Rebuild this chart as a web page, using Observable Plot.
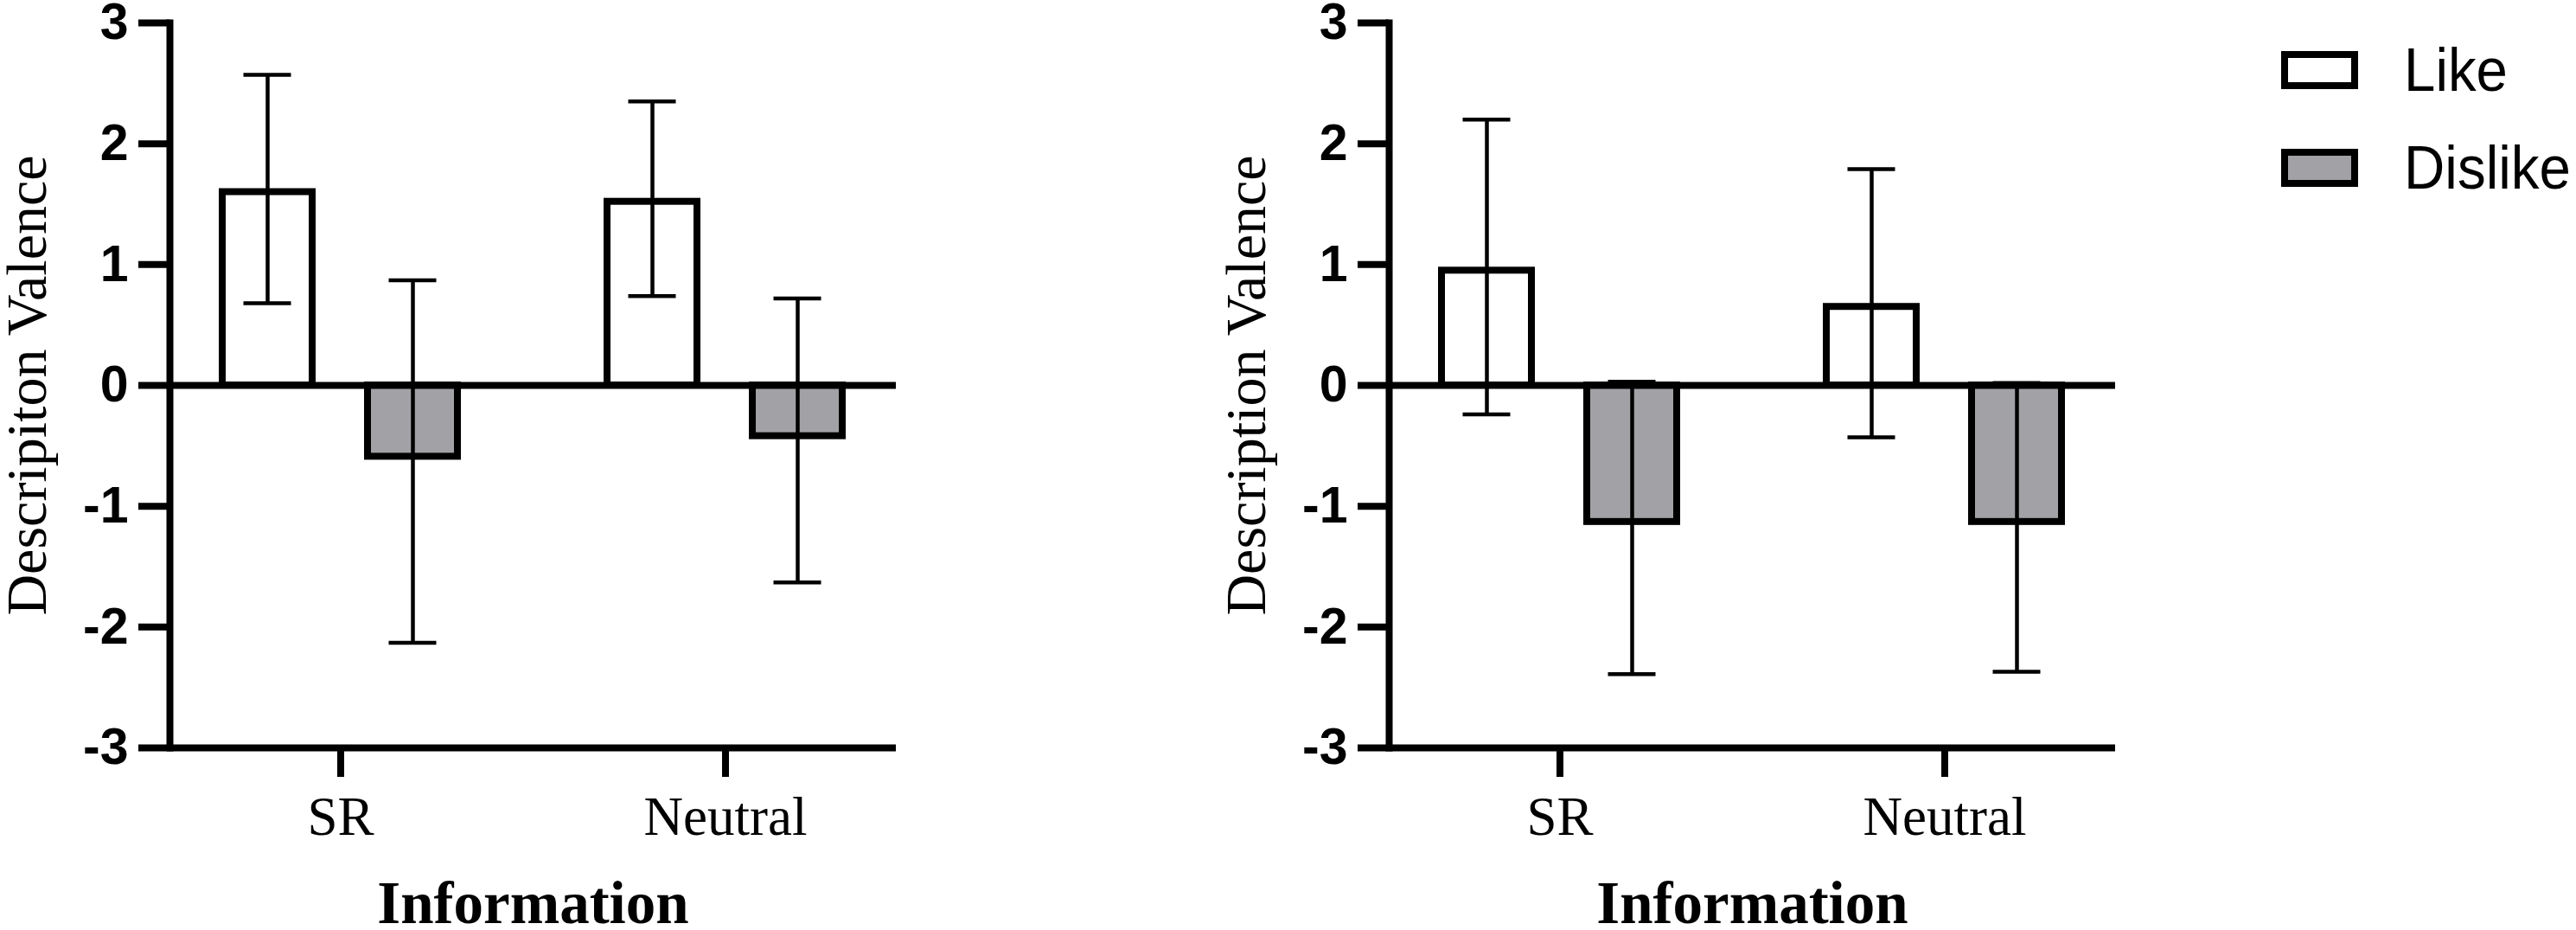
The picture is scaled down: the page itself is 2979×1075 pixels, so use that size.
<!DOCTYPE html>
<html>
<head>
<meta charset="utf-8">
<script src="https://cdn.jsdelivr.net/npm/d3@7"></script>
<script src="https://cdn.jsdelivr.net/npm/@observablehq/plot@0.6"></script>
<style>
  html, body { margin: 0; padding: 0; background: #ffffff; }
  #root { position: relative; width: 2979px; height: 1075px; overflow: hidden; background: #ffffff; }
  .panel { position: absolute; top: 0; width: 1100px; height: 1075px; }
  .panel svg { position: absolute; left: 0; top: 0; }
  #legend { position: absolute; left: 2580px; top: 0; }
</style>
</head>
<body>
<div id="root"></div>
<script>
// ---- data ----
const groups = ["SR", "Neutral"];
const conditions = ["Like", "Dislike"];
const yTicks = [-3, -2, -1, 0, 1, 2, 3];
const xTitle = "Information";

// order: SR-Like, SR-Dislike, Neutral-Like, Neutral-Dislike
const leftTitle = "Descripiton Valence";
const leftMean = [1.60, -0.59, 1.52, -0.42];
const leftLow  = [0.68, -2.13, 0.74, -1.63];
const leftHigh = [2.57, 0.87, 2.35, 0.72];

const rightTitle = "Description Valence";
const rightMean = [0.95, -1.13, 0.65, -1.13];
const rightLow  = [-0.24, -2.39, -0.43, -2.37];
const rightHigh = [2.20, 0.03, 1.79, 0.02];

const fillColors = ["#ffffff", "#a2a2a6"];

// ---- layout ----
const W = 1100, H = 1075;
const margins = {marginLeft: 196, marginRight: 64, marginTop: 26, marginBottom: 211};
const serif = "'Liberation Serif', 'Times New Roman', Times, serif";
const sans = "'Liberation Sans', Arial, Helvetica, sans-serif";
const transparent = {background: "transparent", overflow: "visible", maxWidth: "none"};

function buildRows(mean, low, high) {
  const rows = [];
  let k = 0;
  for (const g of groups) for (const c of conditions) {
    rows.push({group: g, cond: c, mean: mean[k], lo: low[k], hi: high[k]});
    k++;
  }
  return rows;
}

function panel(left, rows, yTitle) {
  const div = document.createElement("div");
  div.className = "panel";
  div.style.left = left + "px";

  const main = Plot.plot({
    width: W, height: H, ...margins,
    style: transparent,
    y: {domain: [-3, 3], axis: null},
    x: {domain: conditions, axis: null, paddingInner: 0.379, paddingOuter: 0.358},
    fx: {domain: groups, paddingInner: 0.1163, paddingOuter: 0, label: null},
    color: {domain: conditions, range: fillColors},
    marks: [
      Plot.barY(rows, {fx: "group", x: "cond", y: "mean", fill: "cond", stroke: "#000", strokeWidth: 8}),
      Plot.ruleX(rows, {fx: "group", x: "cond", y1: "lo", y2: "hi", stroke: "#000", strokeWidth: 4.5}),
      Plot.tickY(rows, {fx: "group", x: "cond", y: "lo", stroke: "#000", strokeWidth: 4.5, insetLeft: 24.5, insetRight: 24.5}),
      Plot.tickY(rows, {fx: "group", x: "cond", y: "hi", stroke: "#000", strokeWidth: 4.5, insetLeft: 24.5, insetRight: 24.5}),
      Plot.axisFx({anchor: "bottom", label: null, tickSize: 34, tickPadding: 22, strokeWidth: 8,
                   fontSize: 63, fontFamily: serif, color: "#000"})
    ]
  });

  const overlay = Plot.plot({
    width: W, height: H, ...margins,
    style: transparent,
    y: {domain: [-3, 3]},
    marks: [
      Plot.ruleY([0, -3], {stroke: "#000", strokeWidth: 8}),
      Plot.frame({anchor: "left", stroke: "#000", strokeWidth: 8, strokeLinecap: "square"}),
      Plot.axisY({ticks: yTicks, tickFormat: d => String(d), label: null, tickSize: 36, tickPadding: 12,
                  strokeWidth: 8, fontSize: 59, fontWeight: "bold", fontFamily: sans, color: "#000"}),
      Plot.text([yTitle], {text: d => d, frameAnchor: "left", textAnchor: "middle", rotate: -90, dx: -144,
                           lineAnchor: "bottom", fontSize: 66, fontFamily: serif, fill: "#000"}),
      Plot.text([xTitle], {text: d => d, frameAnchor: "bottom", textAnchor: "middle", dy: 202, lineAnchor: "bottom",
                           fontSize: 69, fontWeight: "bold", fontFamily: serif, fill: "#000"})
    ]
  });

  div.appendChild(main);
  div.appendChild(overlay);
  return div;
}

const root = document.getElementById("root");
root.appendChild(panel(0, buildRows(leftMean, leftLow, leftHigh), leftTitle));
root.appendChild(panel(1410, buildRows(rightMean, rightLow, rightHigh), rightTitle));

// ---- legend ----
const legendLengths = [120, 193];
const lg = d3.create("svg").attr("id", "legend").attr("width", 399).attr("height", 300);
conditions.forEach((c, i) => {
  const top = 63 + i * 113;
  lg.append("rect").attr("x", 62).attr("y", top).attr("width", 81).attr("height", 36)
    .attr("fill", fillColors[i]).attr("stroke", "#000").attr("stroke-width", 8);
  lg.append("text").attr("x", 200).attr("y", top + 42)
    .attr("font-family", sans).attr("font-size", 71).attr("fill", "#000")
    .attr("textLength", legendLengths[i]).attr("lengthAdjust", "spacingAndGlyphs")
    .text(c);
});
root.appendChild(lg.node());
</script>
</body>
</html>
